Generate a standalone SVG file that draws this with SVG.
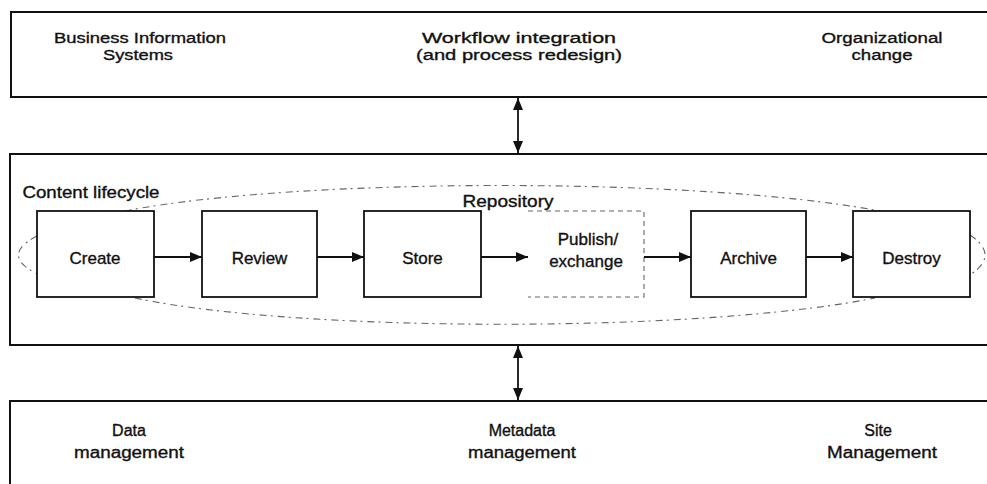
<svg xmlns="http://www.w3.org/2000/svg" width="987" height="484" viewBox="0 0 987 484">
<defs>
<marker id="ah" viewBox="0 0 12 10" refX="12" refY="5" markerWidth="12" markerHeight="10" markerUnits="userSpaceOnUse" orient="auto-start-reverse">
<path d="M0,0 L12,5 L0,10 z" fill="#111"/>
</marker>
<style>
.panel{fill:#fff;stroke:#111;stroke-width:2}
.step{fill:#fff;stroke:#111;stroke-width:1.8}
.t{font-family:"Liberation Sans",Arial,sans-serif;fill:#111;text-anchor:middle;stroke:#111;stroke-width:0.35}
.top{font-size:15.5px}
.bx{font-size:17px}
.bot{font-size:16px}
.lbl{font-size:16px}
.conn{stroke:#111;stroke-width:1.8;fill:none}
.dash{stroke:#666;stroke-width:1.1;fill:none;stroke-dasharray:7 4 2 5}
</style>
</defs>
<rect width="987" height="484" fill="#fff"/>

<g id="business-layer">
<rect class="panel" x="11" y="12" width="1000" height="85"/>
<text class="t top" x="140" y="43" textLength="172" lengthAdjust="spacingAndGlyphs">Business Information</text>
<text class="t top" x="138" y="60" textLength="70" lengthAdjust="spacingAndGlyphs">Systems</text>
<text class="t top" x="519" y="43" textLength="194" lengthAdjust="spacingAndGlyphs">Workflow integration</text>
<text class="t top" x="519" y="60" textLength="206" lengthAdjust="spacingAndGlyphs">(and process redesign)</text>
<text class="t top" x="882" y="43" textLength="121" lengthAdjust="spacingAndGlyphs">Organizational</text>
<text class="t top" x="882" y="60" textLength="61" lengthAdjust="spacingAndGlyphs">change</text>
</g>

<g id="content-layer">
<rect class="panel" x="10" y="154" width="1000" height="191"/>
<text class="t lbl" x="91" y="198" textLength="137" lengthAdjust="spacingAndGlyphs">Content lifecycle</text>
</g>

<g id="lifecycle-outline">
<path class="dash" d="M125 211 C300 177 700 177 880 211"/>
<path class="dash" d="M135 298 C300 333 700 333 875 298"/>
<path class="dash" d="M37 236 Q0 255 37 274"/>
<path class="dash" d="M970 235 Q1000 255 970 275"/>
</g>

<g id="repository">
<text class="t lbl" x="508" y="207" textLength="91" lengthAdjust="spacingAndGlyphs">Repository</text>
</g>

<g id="create">
<rect class="step" x="37" y="211" width="117" height="86"/>
<text class="t bx" x="95" y="264">Create</text>
</g>
<g id="review">
<rect class="step" x="202" y="211" width="115" height="86"/>
<text class="t bx" x="259.5" y="264">Review</text>
</g>
<g id="store">
<rect class="step" x="364" y="211" width="117" height="86"/>
<text class="t bx" x="422.5" y="264">Store</text>
</g>
<g id="publish">
<path class="dash" d="M528 211 H644 V297 H528" style="stroke-dasharray:5 4"/>
<text class="t bx" x="588" y="245">Publish/</text>
<text class="t bx" x="586" y="267">exchange</text>
</g>
<g id="archive">
<rect class="step" x="691" y="211" width="115" height="86"/>
<text class="t bx" x="748.5" y="264">Archive</text>
</g>
<g id="destroy">
<rect class="step" x="853" y="211" width="117" height="86"/>
<text class="t bx" x="911.5" y="264">Destroy</text>
</g>

<g id="infrastructure-layer">
<rect class="panel" x="10" y="401" width="1000" height="100"/>
<text class="t bot" x="129" y="436">Data</text>
<text class="t bot" x="129" y="458" textLength="110" lengthAdjust="spacingAndGlyphs">management</text>
<text class="t bot" x="522" y="436">Metadata</text>
<text class="t bot" x="522" y="458" textLength="108" lengthAdjust="spacingAndGlyphs">management</text>
<text class="t bot" x="878" y="436">Site</text>
<text class="t bot" x="882" y="458" textLength="110" lengthAdjust="spacingAndGlyphs">Management</text>
</g>

<g id="connectors">
<line class="conn" x1="518" y1="98" x2="518" y2="153" marker-start="url(#ah)" marker-end="url(#ah)"/>
<line class="conn" x1="518" y1="346" x2="518" y2="400" marker-start="url(#ah)" marker-end="url(#ah)"/>
<line class="conn" x1="154" y1="257" x2="202" y2="257" marker-end="url(#ah)"/>
<line class="conn" x1="317" y1="257" x2="364" y2="257" marker-end="url(#ah)"/>
<line class="conn" x1="481" y1="257" x2="528" y2="257" marker-end="url(#ah)"/>
<line class="conn" x1="644" y1="257" x2="691" y2="257" marker-end="url(#ah)"/>
<line class="conn" x1="806" y1="257" x2="853" y2="257" marker-end="url(#ah)"/>
</g>
</svg>
